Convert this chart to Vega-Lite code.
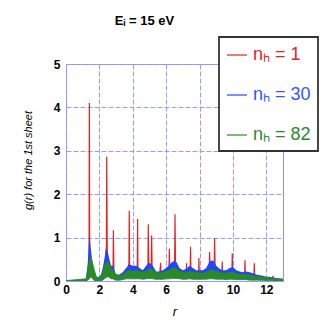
{
  "$schema": "https://vega.github.io/schema/vega-lite/v6.json",
  "autosize": "none",
  "width": 217,
  "height": 217,
  "padding": {"left": 66, "top": 64, "right": 44, "bottom": 46},
  "background": "white",
  "config": {
    "view": {"stroke": "#8c8cff", "strokeWidth": 1},
    "font": "Liberation Sans",
    "legend": {"strokeWidth": 1.8},
    "axis": {
      "grid": true, "gridColor": "#9a9aff", "gridDash": [5, 2], "gridWidth": 1,
      "domain": false, "ticks": false, "labelOverlap": false, "labelFlush": false,
      "labelFont": "Liberation Sans", "labelFontWeight": "bold", "labelFontSize": 12, "labelColor": "black",
      "titleFont": "Liberation Sans", "titleFontStyle": "italic", "titleFontWeight": "normal", "titleColor": "black"
    }
  },
  "title": {"text": "Eᵢ = 15 eV", "font": "Liberation Sans", "fontSize": 13, "fontWeight": "bold", "anchor": "middle", "dx": -30, "offset": 8, "color": "black"},
  "datasets": {
    "red": [
      {"r": 0, "g": 0}, {"r": 1.2, "g": 0}, {"r": 1.3, "g": 0.1}, {"r": 1.38, "g": 0.5}, {"r": 1.4, "g": 4.1}, {"r": 1.42, "g": 0.6}, {"r": 1.5, "g": 0.3}, {"r": 1.6, "g": 0.1}, {"r": 1.7, "g": 0.02}, {"r": 1.9, "g": 0.0}, {"r": 2.1, "g": 0.05}, {"r": 2.3, "g": 0.2}, {"r": 2.42, "g": 0.8}, {"r": 2.44, "g": 2.86}, {"r": 2.47, "g": 0.7}, {"r": 2.55, "g": 0.4}, {"r": 2.7, "g": 0.2}, {"r": 2.82, "g": 0.3}, {"r": 2.84, "g": 1.17}, {"r": 2.87, "g": 0.2}, {"r": 3.0, "g": 0.05}, {"r": 3.2, "g": 0.05}, {"r": 3.4, "g": 0.1}, {"r": 3.6, "g": 0.15}, {"r": 3.77, "g": 0.4}, {"r": 3.79, "g": 1.62}, {"r": 3.81, "g": 0.3}, {"r": 4.0, "g": 0.1}, {"r": 4.15, "g": 0.15}, {"r": 4.27, "g": 0.3}, {"r": 4.29, "g": 1.43}, {"r": 4.31, "g": 0.2}, {"r": 4.5, "g": 0.1}, {"r": 4.7, "g": 0.15}, {"r": 4.91, "g": 0.4}, {"r": 4.93, "g": 1.31}, {"r": 4.96, "g": 0.3}, {"r": 5.1, "g": 0.3}, {"r": 5.13, "g": 1.05}, {"r": 5.16, "g": 0.2}, {"r": 5.4, "g": 0.05}, {"r": 5.6, "g": 0.1}, {"r": 5.67, "g": 0.42}, {"r": 5.7, "g": 0.05}, {"r": 5.9, "g": 0.1}, {"r": 6.17, "g": 0.2}, {"r": 6.19, "g": 0.74}, {"r": 6.22, "g": 0.2}, {"r": 6.4, "g": 0.3}, {"r": 6.51, "g": 0.5}, {"r": 6.53, "g": 1.54}, {"r": 6.56, "g": 0.3}, {"r": 6.8, "g": 0.1}, {"r": 7.0, "g": 0.05}, {"r": 7.2, "g": 0.1}, {"r": 7.22, "g": 0.41}, {"r": 7.25, "g": 0.1}, {"r": 7.44, "g": 0.2}, {"r": 7.46, "g": 0.79}, {"r": 7.49, "g": 0.1}, {"r": 7.7, "g": 0.05}, {"r": 7.94, "g": 0.1}, {"r": 7.96, "g": 0.53}, {"r": 7.99, "g": 0.05}, {"r": 8.3, "g": 0.1}, {"r": 8.58, "g": 0.2}, {"r": 8.6, "g": 0.67}, {"r": 8.64, "g": 0.2}, {"r": 8.88, "g": 0.3}, {"r": 8.9, "g": 0.99}, {"r": 8.94, "g": 0.2}, {"r": 9.1, "g": 0.1}, {"r": 9.34, "g": 0.1}, {"r": 9.36, "g": 0.45}, {"r": 9.39, "g": 0.1}, {"r": 9.7, "g": 0.1}, {"r": 9.94, "g": 0.2}, {"r": 9.96, "g": 0.64}, {"r": 10.0, "g": 0.1}, {"r": 10.3, "g": 0.1}, {"r": 10.7, "g": 0.1}, {"r": 10.72, "g": 0.48}, {"r": 10.75, "g": 0.1}, {"r": 11.0, "g": 0.1}, {"r": 11.26, "g": 0.1}, {"r": 11.28, "g": 0.41}, {"r": 11.31, "g": 0.05}, {"r": 11.8, "g": 0.05}, {"r": 12.38, "g": 0.05}, {"r": 12.4, "g": 0.12}, {"r": 12.45, "g": 0.02}, {"r": 13, "g": 0.02}
    ],
    "blue": [
      {"r": 1.2, "lo": 0, "hi": 0.05}, {"r": 1.3, "lo": 0.05, "hi": 0.4}, {"r": 1.4, "lo": 0.2, "hi": 1.05}, {"r": 1.5, "lo": 0.15, "hi": 0.7}, {"r": 1.6, "lo": 0.05, "hi": 0.35}, {"r": 1.7, "lo": 0.02, "hi": 0.2}, {"r": 1.8, "lo": 0.0, "hi": 0.1}, {"r": 1.9, "lo": 0.0, "hi": 0.08}, {"r": 2.0, "lo": 0.0, "hi": 0.1}, {"r": 2.1, "lo": 0.02, "hi": 0.15}, {"r": 2.2, "lo": 0.05, "hi": 0.3}, {"r": 2.3, "lo": 0.1, "hi": 0.5}, {"r": 2.4, "lo": 0.15, "hi": 0.75}, {"r": 2.5, "lo": 0.15, "hi": 0.65}, {"r": 2.6, "lo": 0.1, "hi": 0.5}, {"r": 2.7, "lo": 0.08, "hi": 0.35}, {"r": 2.8, "lo": 0.05, "hi": 0.35}, {"r": 2.9, "lo": 0.05, "hi": 0.25}, {"r": 3.0, "lo": 0.02, "hi": 0.15}, {"r": 3.2, "lo": 0.02, "hi": 0.15}, {"r": 3.4, "lo": 0.05, "hi": 0.2}, {"r": 3.6, "lo": 0.08, "hi": 0.3}, {"r": 3.8, "lo": 0.1, "hi": 0.38}, {"r": 4.0, "lo": 0.08, "hi": 0.35}, {"r": 4.2, "lo": 0.1, "hi": 0.35}, {"r": 4.4, "lo": 0.08, "hi": 0.3}, {"r": 4.6, "lo": 0.05, "hi": 0.25}, {"r": 4.8, "lo": 0.08, "hi": 0.35}, {"r": 5.0, "lo": 0.1, "hi": 0.42}, {"r": 5.2, "lo": 0.08, "hi": 0.35}, {"r": 5.4, "lo": 0.05, "hi": 0.22}, {"r": 5.6, "lo": 0.05, "hi": 0.22}, {"r": 5.8, "lo": 0.05, "hi": 0.25}, {"r": 6.0, "lo": 0.08, "hi": 0.3}, {"r": 6.2, "lo": 0.1, "hi": 0.38}, {"r": 6.4, "lo": 0.12, "hi": 0.45}, {"r": 6.6, "lo": 0.1, "hi": 0.45}, {"r": 6.8, "lo": 0.08, "hi": 0.3}, {"r": 7.0, "lo": 0.05, "hi": 0.25}, {"r": 7.2, "lo": 0.05, "hi": 0.28}, {"r": 7.4, "lo": 0.08, "hi": 0.35}, {"r": 7.6, "lo": 0.06, "hi": 0.3}, {"r": 7.8, "lo": 0.05, "hi": 0.25}, {"r": 8.0, "lo": 0.05, "hi": 0.25}, {"r": 8.2, "lo": 0.05, "hi": 0.25}, {"r": 8.4, "lo": 0.06, "hi": 0.3}, {"r": 8.6, "lo": 0.1, "hi": 0.45}, {"r": 8.8, "lo": 0.1, "hi": 0.48}, {"r": 9.0, "lo": 0.08, "hi": 0.35}, {"r": 9.2, "lo": 0.05, "hi": 0.28}, {"r": 9.4, "lo": 0.05, "hi": 0.25}, {"r": 9.6, "lo": 0.05, "hi": 0.25}, {"r": 9.8, "lo": 0.06, "hi": 0.3}, {"r": 10.0, "lo": 0.06, "hi": 0.32}, {"r": 10.2, "lo": 0.05, "hi": 0.25}, {"r": 10.4, "lo": 0.04, "hi": 0.22}, {"r": 10.6, "lo": 0.04, "hi": 0.2}, {"r": 10.8, "lo": 0.04, "hi": 0.22}, {"r": 11.0, "lo": 0.03, "hi": 0.2}, {"r": 11.2, "lo": 0.03, "hi": 0.18}, {"r": 11.4, "lo": 0.03, "hi": 0.15}, {"r": 11.6, "lo": 0.02, "hi": 0.13}, {"r": 11.8, "lo": 0.02, "hi": 0.12}, {"r": 12.0, "lo": 0.02, "hi": 0.1}, {"r": 12.2, "lo": 0.02, "hi": 0.1}, {"r": 12.4, "lo": 0.01, "hi": 0.08}, {"r": 12.6, "lo": 0.01, "hi": 0.07}, {"r": 12.8, "lo": 0.01, "hi": 0.06}, {"r": 13.0, "lo": 0.01, "hi": 0.05}
    ],
    "green": [
      {"r": 0, "lo": 0, "hi": 0.01}, {"r": 1.2, "lo": 0, "hi": 0.05}, {"r": 1.3, "lo": 0.02, "hi": 0.25}, {"r": 1.4, "lo": 0.05, "hi": 0.45}, {"r": 1.5, "lo": 0.1, "hi": 0.56}, {"r": 1.6, "lo": 0.05, "hi": 0.4}, {"r": 1.7, "lo": 0.02, "hi": 0.25}, {"r": 1.8, "lo": 0.0, "hi": 0.12}, {"r": 1.9, "lo": 0.0, "hi": 0.08}, {"r": 2.0, "lo": 0.0, "hi": 0.08}, {"r": 2.1, "lo": 0.0, "hi": 0.12}, {"r": 2.2, "lo": 0.02, "hi": 0.2}, {"r": 2.3, "lo": 0.05, "hi": 0.35}, {"r": 2.4, "lo": 0.08, "hi": 0.42}, {"r": 2.5, "lo": 0.1, "hi": 0.45}, {"r": 2.6, "lo": 0.08, "hi": 0.38}, {"r": 2.7, "lo": 0.05, "hi": 0.3}, {"r": 2.8, "lo": 0.05, "hi": 0.25}, {"r": 2.9, "lo": 0.03, "hi": 0.2}, {"r": 3.0, "lo": 0.02, "hi": 0.15}, {"r": 3.2, "lo": 0.02, "hi": 0.12}, {"r": 3.4, "lo": 0.03, "hi": 0.15}, {"r": 3.6, "lo": 0.05, "hi": 0.2}, {"r": 3.8, "lo": 0.05, "hi": 0.25}, {"r": 4.0, "lo": 0.05, "hi": 0.22}, {"r": 4.2, "lo": 0.05, "hi": 0.25}, {"r": 4.4, "lo": 0.05, "hi": 0.22}, {"r": 4.6, "lo": 0.04, "hi": 0.2}, {"r": 4.8, "lo": 0.05, "hi": 0.22}, {"r": 5.0, "lo": 0.06, "hi": 0.28}, {"r": 5.2, "lo": 0.05, "hi": 0.25}, {"r": 5.4, "lo": 0.04, "hi": 0.2}, {"r": 5.6, "lo": 0.04, "hi": 0.18}, {"r": 5.8, "lo": 0.04, "hi": 0.2}, {"r": 6.0, "lo": 0.05, "hi": 0.22}, {"r": 6.2, "lo": 0.05, "hi": 0.25}, {"r": 6.4, "lo": 0.06, "hi": 0.3}, {"r": 6.6, "lo": 0.06, "hi": 0.3}, {"r": 6.8, "lo": 0.05, "hi": 0.22}, {"r": 7.0, "lo": 0.04, "hi": 0.2}, {"r": 7.2, "lo": 0.04, "hi": 0.2}, {"r": 7.4, "lo": 0.05, "hi": 0.22}, {"r": 7.6, "lo": 0.04, "hi": 0.2}, {"r": 7.8, "lo": 0.04, "hi": 0.2}, {"r": 8.0, "lo": 0.04, "hi": 0.18}, {"r": 8.2, "lo": 0.04, "hi": 0.18}, {"r": 8.4, "lo": 0.04, "hi": 0.2}, {"r": 8.6, "lo": 0.05, "hi": 0.25}, {"r": 8.8, "lo": 0.05, "hi": 0.25}, {"r": 9.0, "lo": 0.04, "hi": 0.22}, {"r": 9.2, "lo": 0.04, "hi": 0.2}, {"r": 9.4, "lo": 0.04, "hi": 0.18}, {"r": 9.6, "lo": 0.03, "hi": 0.18}, {"r": 9.8, "lo": 0.04, "hi": 0.2}, {"r": 10.0, "lo": 0.04, "hi": 0.2}, {"r": 10.2, "lo": 0.03, "hi": 0.17}, {"r": 10.4, "lo": 0.03, "hi": 0.15}, {"r": 10.6, "lo": 0.03, "hi": 0.15}, {"r": 10.8, "lo": 0.03, "hi": 0.15}, {"r": 11.0, "lo": 0.02, "hi": 0.13}, {"r": 11.2, "lo": 0.02, "hi": 0.12}, {"r": 11.4, "lo": 0.02, "hi": 0.1}, {"r": 11.6, "lo": 0.02, "hi": 0.1}, {"r": 11.8, "lo": 0.02, "hi": 0.09}, {"r": 12.0, "lo": 0.01, "hi": 0.08}, {"r": 12.2, "lo": 0.01, "hi": 0.07}, {"r": 12.4, "lo": 0.01, "hi": 0.06}, {"r": 12.6, "lo": 0.01, "hi": 0.05}, {"r": 12.8, "lo": 0.01, "hi": 0.05}, {"r": 13.0, "lo": 0.01, "hi": 0.04}
    ]
  },
  "encoding": {
    "x": {"field": "r", "type": "quantitative", "scale": {"domain": [0, 13], "nice": false}, "axis": {"values": [0, 2, 4, 6, 8, 10, 12], "title": "r", "titleFontSize": 13, "titlePadding": 10, "labelPadding": 3}},
    "color": {
      "field": "series", "type": "nominal",
      "scale": {"domain": ["nₕ = 1", "nₕ = 30", "nₕ = 82"], "range": ["#e02424", "#2244ff", "#2a8a2a"]},
      "legend": {
        "title": null, "orient": "none", "legendX": 153, "legendY": -27,
        "symbolType": "stroke", "symbolSize": 400, "symbolStrokeWidth": 1.2,
        "labelFontSize": 18, "labelFont": "Liberation Sans", "labelOffset": 5,
        "labelColor": {"expr": "datum.value == 'nₕ = 1' ? '#e02424' : (datum.value == 'nₕ = 30' ? '#3355ff' : '#2a8a2a')"},
        "rowPadding": 20, "padding": 7, "fillColor": "white", "strokeColor": "#333333"
      }
    }
  },
  "layer": [
    {
      "data": {"name": "red"},
      "transform": [{"calculate": "'nₕ = 1'", "as": "series"}],
      "mark": {"type": "line", "strokeWidth": 1.2, "clip": true},
      "encoding": {
        "y": {"field": "g", "type": "quantitative", "scale": {"domain": [0, 5], "nice": false}, "axis": {"values": [0, 1, 2, 3, 4, 5], "title": "g(r) for the 1st sheet", "titleFontSize": 11, "titlePadding": 20, "titleY": 96, "labelPadding": 6}}
      }
    },
    {
      "data": {"name": "blue"},
      "transform": [{"calculate": "'nₕ = 30'", "as": "series"}],
      "mark": {"type": "area", "clip": true},
      "encoding": {
        "y": {"field": "lo", "type": "quantitative"},
        "y2": {"field": "hi"}
      }
    },
    {
      "data": {"name": "green"},
      "transform": [{"calculate": "'nₕ = 82'", "as": "series"}],
      "mark": {"type": "area", "clip": true, "strokeWidth": 0.8},
      "encoding": {
        "y": {"field": "lo", "type": "quantitative"},
        "y2": {"field": "hi"},
        "stroke": {"field": "series", "type": "nominal", "scale": {"domain": ["nₕ = 1", "nₕ = 30", "nₕ = 82"], "range": ["#e02424", "#2244ff", "#2a8a2a"]}, "legend": null}
      }
    }
  ]
}
